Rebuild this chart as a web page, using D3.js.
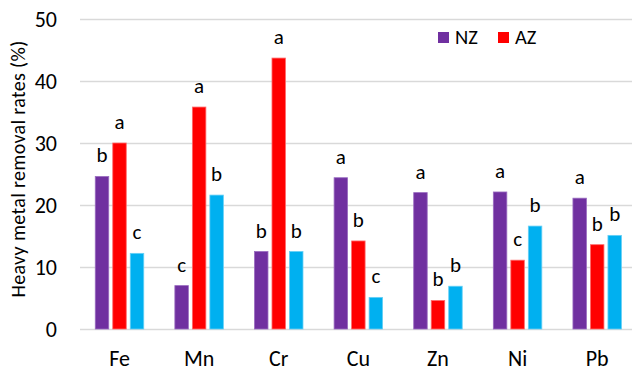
<!DOCTYPE html>
<html>
<head>
<meta charset="utf-8">
<script src="https://cdn.jsdelivr.net/npm/d3@7"></script>
<style>
  html, body { margin: 0; padding: 0; background: #fff; }
  svg { display: block; }
  text { font-family: Carlito, Calibri, Lato, "Open Sans", sans-serif; fill: #000; }
</style>
</head>
<body>
<svg id="chart" width="632" height="371"></svg>
<script>
// Heavy metal removal rates (%) per metal, three treatments
const categories = ["Fe", "Mn", "Cr", "Cu", "Zn", "Ni", "Pb"];
const seriesNames = ["NZ", "AZ", "S3"];
const nzValues = [24.6, 7.0, 12.5, 24.4, 22.0, 22.1, 21.1];
const azValues = [30.0, 35.8, 43.7, 14.2, 4.6, 11.1, 13.6];
const s3Values = [12.2, 21.6, 12.5, 5.1, 6.9, 16.6, 15.1];
// significance letters for each bar
const nzLetters = ["b", "c", "b", "a", "a", "a", "a"];
const azLetters = ["a", "a", "a", "b", "b", "c", "b"];
const s3Letters = ["c", "b", "b", "c", "b", "b", "b"];
const yTicks = [0, 10, 20, 30, 40, 50];
const legendNames = ["NZ", "AZ"];

const colors = { NZ: "#7030A0", AZ: "#FF0000", S3: "#00B0F0" };
const strokes = { NZ: "#9a6cc0", AZ: "#ff6b6b", S3: "#66d0f6" };

const valuesBySeries = { NZ: nzValues, AZ: azValues, S3: s3Values };
const lettersBySeries = { NZ: nzLetters, AZ: azLetters, S3: s3Letters };

const svg = d3.select("#chart");

const y = d3.scaleLinear().domain([0, 50]).range([329, 19]);
const x0 = d3.scaleBand().domain(categories).range([79.7, 637]).padding(0);
const x1 = d3.scaleBand().domain(seriesNames).range([0, x0.bandwidth()])
  .paddingInner(0.2286).paddingOuter(0.889);

// gridlines
svg.append("g").selectAll("line").data(yTicks).join("line")
  .attr("x1", 80).attr("x2", 637)
  .attr("y1", d => y(d) + 0.5).attr("y2", d => y(d) + 0.5)
  .attr("stroke", "#d9d9d9").attr("stroke-width", 1.3);

// y tick labels
svg.append("g").selectAll("text").data(yTicks).join("text")
  .attr("x", 57).attr("y", d => y(d))
  .attr("text-anchor", "end").attr("dy", "0.36em")
  .style("font-size", "22px")
  .text(d => d);

// y axis title
svg.append("text")
  .attr("transform", "translate(25,169) rotate(-90)")
  .attr("text-anchor", "middle")
  .style("font-size", "20px")
  .style("letter-spacing", "0.35px")
  .text("Heavy metal removal rates (%)");

// bars
const rows = categories.map((c, i) => ({
  cat: c,
  items: seriesNames.map(s => ({ s, v: valuesBySeries[s][i], l: lettersBySeries[s][i] }))
}));

const groups = svg.append("g").selectAll("g").data(rows).join("g")
  .attr("transform", d => `translate(${x0(d.cat)},0)`);

groups.selectAll("rect").data(d => d.items).join("rect")
  .attr("x", d => x1(d.s))
  .attr("y", d => y(d.v))
  .attr("width", x1.bandwidth())
  .attr("height", d => y(0) - y(d.v))
  .attr("fill", d => colors[d.s])
  .attr("stroke", d => strokes[d.s])
  .attr("stroke-width", 0.8);

groups.selectAll("text").data(d => d.items).join("text")
  .attr("x", d => x1(d.s) + x1.bandwidth() / 2)
  .attr("y", d => y(d.v) - 14)
  .attr("text-anchor", "middle")
  .style("font-size", "21px")
  .text(d => d.l);

// x category labels
svg.append("g").selectAll("text").data(categories).join("text")
  .attr("x", d => x0(d) + x0.bandwidth() / 2)
  .attr("y", 366)
  .attr("text-anchor", "middle")
  .style("font-size", "22px")
  .text(d => d);

// legend
const legend = svg.append("g").selectAll("g").data(legendNames).join("g")
  .attr("transform", (d, i) => `translate(${438 + i * 60},32)`);
legend.append("rect").attr("width", 11).attr("height", 11)
  .attr("fill", d => colors[d]);
legend.append("text").attr("x", 17).attr("y", 11.5)
  .style("font-size", "20.5px")
  .text(d => d);
</script>
</body>
</html>
